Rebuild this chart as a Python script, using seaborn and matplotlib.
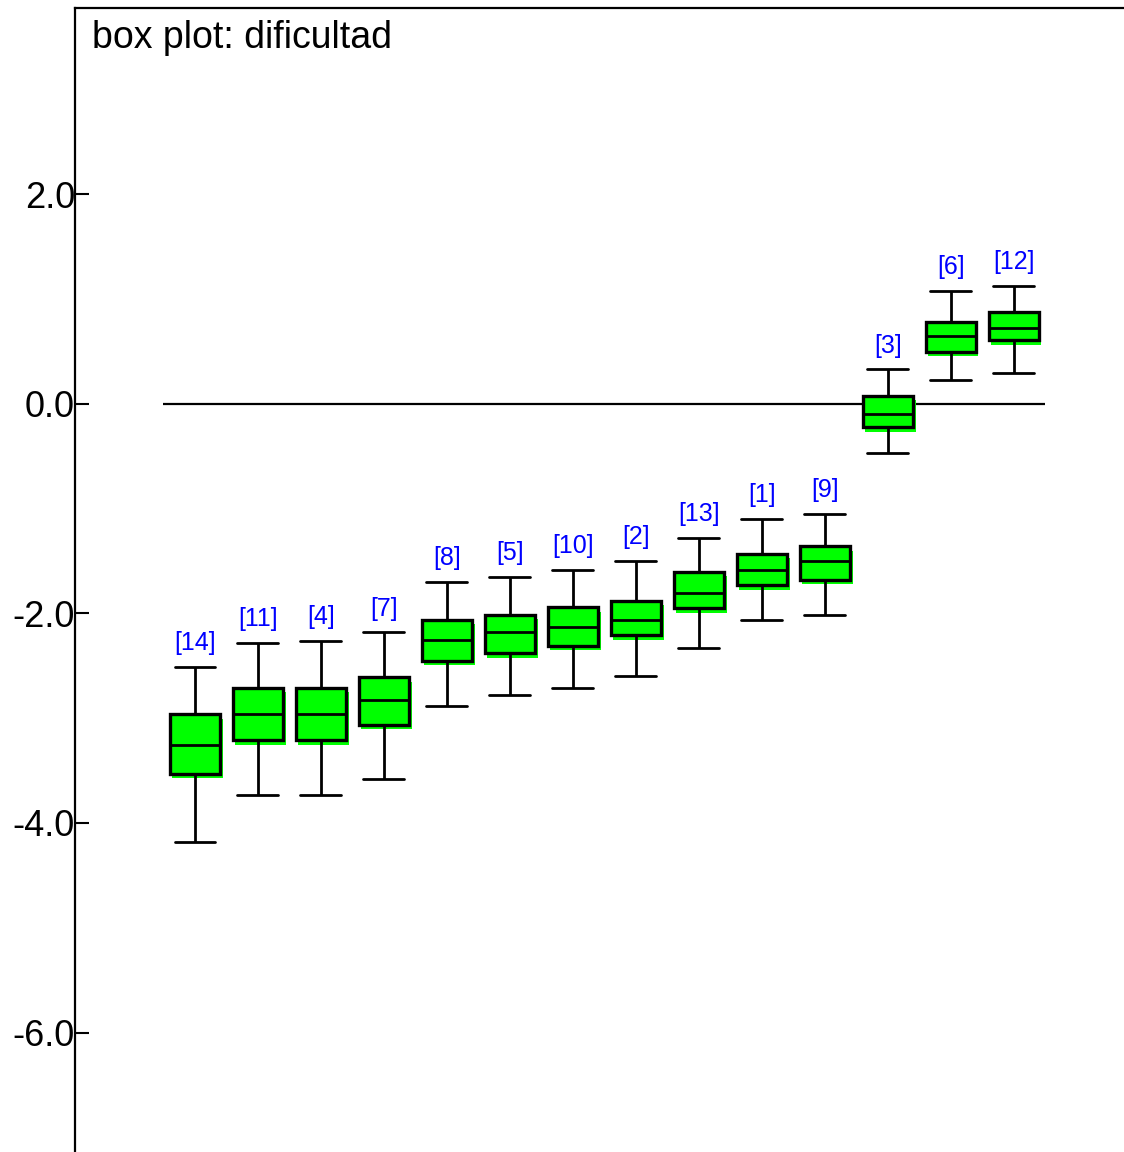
import numpy as np
import pandas as pd
import seaborn as sns
import matplotlib.pyplot as plt
from matplotlib.patches import PathPatch
from matplotlib import transforms

# nodos ordenados como en la figura
nodos = ["[14]", "[11]", "[4]", "[7]", "[8]", "[5]", "[10]",
         "[2]", "[13]", "[1]", "[9]", "[3]", "[6]", "[12]"]

# percentil 2.5, cuartil 1, mediana, cuartil 3, percentil 97.5
p025 = [-4.18, -3.73, -3.73, -3.58, -2.88, -2.78, -2.71,
        -2.60, -2.33, -2.06, -2.01, -0.47, 0.23, 0.30]
q1 = [-3.53, -3.21, -3.21, -3.06, -2.45, -2.38, -2.31,
      -2.21, -1.95, -1.73, -1.68, -0.22, 0.50, 0.61]
mediana = [-3.26, -2.96, -2.96, -2.83, -2.25, -2.18, -2.13,
           -2.06, -1.80, -1.58, -1.50, -0.10, 0.65, 0.73]
q3 = [-2.96, -2.71, -2.71, -2.61, -2.06, -2.01, -1.94,
      -1.88, -1.60, -1.43, -1.36, 0.08, 0.78, 0.88]
p975 = [-2.51, -2.28, -2.26, -2.18, -1.70, -1.65, -1.58,
        -1.50, -1.28, -1.10, -1.05, 0.33, 1.08, 1.13]

yticks = [2.0, 0.0, -2.0, -4.0, -6.0]

# cinco valores por nodo: con whis=(0, 100) seaborn reproduce justo estos estadisticos
filas = []
for i, n in enumerate(nodos):
    for v in (p025[i], q1[i], mediana[i], q3[i], p975[i]):
        filas.append({"nodo": n, "valor": v})
df = pd.DataFrame(filas)

sns.set_style("white")
plt.rcParams["font.family"] = ["Liberation Sans", "DejaVu Sans"]

fig = plt.figure(figsize=(11.24, 11.52), dpi=100)
ax = fig.add_axes([75 / 1124, 0.0, 1 - 75 / 1124, 1 - 8 / 1152])

verde = (0.0, 1.0, 0.0)
sns.boxplot(data=df, x="nodo", y="valor", order=nodos, ax=ax,
            whis=(0, 100), width=0.8, color=verde, saturation=1,
            linecolor="black", linewidth=2.0, capwidths=0.65,
            showfliers=False)

# bordes de caja algo mas gruesos que los bigotes
for p in list(ax.patches):
    p.set_linewidth(2.4)
    sombra = PathPatch(p.get_path(), facecolor=verde, edgecolor="none",
                       transform=transforms.offset_copy(p.get_transform(), fig=fig,
                                                        x=2.5, y=-4.5, units="dots"),
                       zorder=p.get_zorder() - 0.5)
    ax.add_patch(sombra)

ax.hlines(0, -0.5, len(nodos) - 0.5, color="black", linewidth=1.6, zorder=1)

for i, n in enumerate(nodos):
    ax.annotate(n, xy=(i, p975[i]), xytext=(0, 8.5), textcoords="offset points",
                ha="center", va="bottom", color="#0000ff", fontsize=18)

ax.set_xlim(-1.905, 14.75)
ax.set_ylim((404 - 1152) / 104.75, (404 - 8) / 104.75)
ax.set_yticks(yticks)
ax.set_yticklabels([f"{v:.1f}" for v in yticks])
ax.set_xticks([])
ax.set_xlabel("")
ax.set_ylabel("")
ax.tick_params(axis="y", left=True, direction="in", length=10, width=1.5, pad=0,
               labelsize=26, colors="black")

ax.spines["right"].set_visible(False)
ax.spines["bottom"].set_visible(False)
for s in ("left", "top"):
    ax.spines[s].set_color("black")
    ax.spines[s].set_linewidth(1.6)

ax.annotate("box plot: dificultad", xy=(0, 1), xycoords="axes fraction",
            xytext=(12.2, -28.5), textcoords="offset points",
            ha="left", va="baseline", fontsize=27, color="black")

fig.savefig("out.png", dpi=100)
